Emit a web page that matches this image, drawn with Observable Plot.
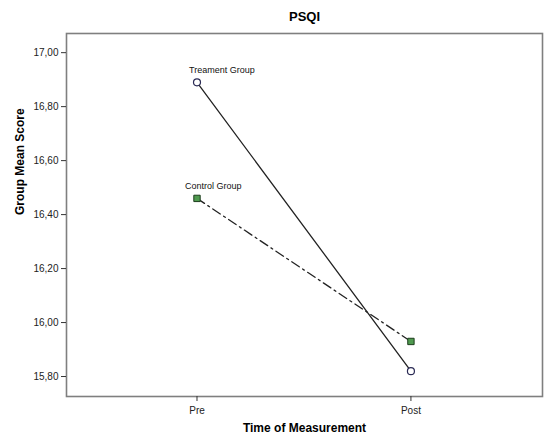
<!DOCTYPE html>
<html>
<head>
<meta charset="utf-8">
<script src="https://cdn.jsdelivr.net/npm/d3@7"></script>
<script src="https://cdn.jsdelivr.net/npm/@observablehq/plot@0.6"></script>
<style>
  body { margin: 0; background: #fff; }
  svg { font-family: Arial, "Liberation Sans", sans-serif; }
</style>
</head>
<body>
<div id="chart"></div>
<script>
const times = ["Pre", "Post"];
const timeIndex = [0, 1];
const groups = ["Treament Group", "Control Group"];
const treatmentValues = [16.89, 15.82];
const controlValues = [16.46, 15.93];
const yTicks = [15.8, 16.0, 16.2, 16.4, 16.6, 16.8, 17.0];

const treatment = timeIndex.map((t, i) => ({t, v: treatmentValues[i], g: groups[0]}));
const control = timeIndex.map((t, i) => ({t, v: controlValues[i], g: groups[1]}));

const fmt = d => d.toFixed(2).replace(".", ",");

const chart = Plot.plot({
  width: 551,
  height: 441,
  marginTop: 33,
  marginBottom: 45,
  marginLeft: 66,
  marginRight: 9,
  style: {fontFamily: "Arial, 'Liberation Sans', sans-serif", fontSize: "10px", color: "#222"},
  x: {domain: [-0.61, 1.615], ticks: timeIndex, tickFormat: i => times[i], tickSize: 5, label: null},
  y: {domain: [15.726, 17.071], ticks: yTicks, tickFormat: fmt, tickSize: 5, label: null},
  marks: [
    Plot.frame({stroke: "#7f7f7f", strokeWidth: 1.6}),
    Plot.axisX({ticks: timeIndex, tickFormat: i => times[i], tickSize: 5, tickPadding: 5, stroke: "#333", fontSize: 10, label: null}),
    Plot.axisY({ticks: yTicks, tickFormat: fmt, tickSize: 5, tickPadding: 3, stroke: "#333", fontSize: 10, label: null}),
    Plot.line(treatment, {x: "t", y: "v", stroke: "#222", strokeWidth: 1.3}),
    Plot.line(control, {x: "t", y: "v", stroke: "#222", strokeWidth: 1.3, strokeDasharray: "9,4,2,4"}),
    Plot.dot(treatment, {x: "t", y: "v", r: 3.5, stroke: "#2b2b55", strokeWidth: 1.2, fill: "white"}),
    Plot.dot(control, {x: "t", y: "v", symbol: "square", r: 3.6, stroke: "#1d3d1d", strokeWidth: 1, fill: "#4f9a4f"}),
    Plot.text([treatment[0]], {x: "t", y: "v", text: "g", textAnchor: "start", dx: -8, dy: -12, fontSize: 9, fill: "#111"}),
    Plot.text([control[0]], {x: "t", y: "v", text: "g", textAnchor: "start", dx: -12, dy: -12, fontSize: 9, fill: "#111"}),
    Plot.text(["PSQI"], {frameAnchor: "top", dy: -22, fontSize: 13, fontWeight: "bold", fill: "#000"}),
    Plot.text(["Time of Measurement"], {frameAnchor: "bottom", dy: 35, fontSize: 12, fontWeight: "bold", fill: "#000"}),
    Plot.text(["Group Mean Score"], {frameAnchor: "left", dx: -46, rotate: -90, fontSize: 12, fontWeight: "bold", fill: "#000"})
  ]
});
document.getElementById("chart").appendChild(chart);
</script>
</body>
</html>
